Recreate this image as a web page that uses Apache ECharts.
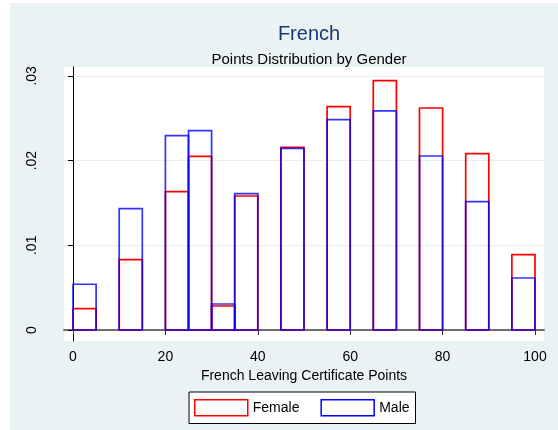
<!DOCTYPE html>
<html>
<head>
<meta charset="utf-8">
<script src="https://cdn.jsdelivr.net/npm/echarts@6/dist/echarts.min.js"></script>
<style>
  html, body { margin: 0; padding: 0; background: #fff; }
  #main { width: 558px; height: 430px; }
</style>
</head>
<body>
<div id="main"></div>
<script>
// histogram bins (left edge, width 5) and densities
const binStarts = [0, 10, 20, 25, 30, 35, 45, 55, 65, 75, 85, 95];
const binWidth = 5;
const female = [0.00252, 0.0083, 0.01633, 0.0205, 0.00283, 0.01582, 0.02157, 0.02636, 0.02943, 0.02621, 0.02082, 0.00889];
const male = [0.0054, 0.01432, 0.02294, 0.02353, 0.00307, 0.01609, 0.02145, 0.02483, 0.02586, 0.02054, 0.01515, 0.00614];
const xTicks = [0, 20, 40, 60, 80, 100];
const yTicks = [0, 0.01, 0.02, 0.03];

const font = 'Liberation Sans, Arial, sans-serif';

function toRows (values) {
    return binStarts.map((s, i) => [s, s + binWidth, values[i]]);
}

function barRenderer (color, opacity) {
    return function (params, api) {
        let topLeft = api.coord([api.value(0), api.value(2)]);
        let bottomRight = api.coord([api.value(1), 0]);
        return {
            type: 'rect',
            shape: {
                x: topLeft[0],
                y: topLeft[1],
                width: bottomRight[0] - topLeft[0],
                height: bottomRight[1] - topLeft[1]
            },
            style: { fill: 'none', stroke: color, lineWidth: 1.7, opacity: opacity }
        };
    };
}

let myChart = echarts.init(document.getElementById('main'));
myChart.setOption({
    backgroundColor: '#fff',
    animation: false,
    graphic: [{
        type: 'rect',
        z: -10,
        shape: { x: 10, y: 3, width: 548, height: 427 },
        style: { fill: '#eaf2f3' }
    }],
    // titles are centred over the plot region, not the whole page
    title: [{
        text: 'French',
        left: 304,
        textAlign: 'center',
        top: 19,
        textStyle: { fontFamily: font, fontSize: 20, fontWeight: 'normal', color: '#1a3a6e' }
    }, {
        text: 'Points Distribution by Gender',
        left: 304,
        textAlign: 'center',
        top: 47,
        textStyle: { fontFamily: font, fontSize: 15, fontWeight: 'normal', color: '#000' }
    }],
    grid: {
        left: 64,
        right: 14,
        top: 67,
        bottom: 89,
        show: true,
        backgroundColor: '#fff',
        borderWidth: 0
    },
    legend: {
        left: 189,
        top: 392,
        padding: [7, 6, 7, 5],
        backgroundColor: '#fff',
        borderColor: '#000',
        borderWidth: 1,
        borderRadius: 0,
        itemWidth: 53,
        itemHeight: 16,
        itemGap: 21,
        textStyle: { fontFamily: font, fontSize: 14, color: '#000' },
        data: [
            { name: 'Female', icon: 'rect', itemStyle: { color: '#fff', borderColor: '#ff0000', borderWidth: 1.5 } },
            { name: 'Male', icon: 'rect', itemStyle: { color: '#fff', borderColor: '#0000ff', borderWidth: 1.5 } }
        ]
    },
    xAxis: {
        type: 'value',
        min: -1.95,
        max: 101.95,
        name: 'French Leaving Certificate Points',
        nameLocation: 'middle',
        nameGap: 26,
        nameTextStyle: { fontFamily: font, fontSize: 14, color: '#000' },
        axisLine: { show: true, lineStyle: { color: '#6e6e6e', width: 2 } },
        axisTick: { show: true, length: 5, customValues: xTicks, lineStyle: { color: '#333' } },
        axisLabel: { customValues: xTicks, margin: 9, fontFamily: font, fontSize: 14, color: '#000' },
        splitLine: { show: false }
    },
    yAxis: {
        type: 'value',
        min: -0.0013,
        max: 0.03105,
        axisLine: { show: true, lineStyle: { color: '#000', width: 1 } },
        axisTick: { show: true, length: 5, customValues: yTicks, lineStyle: { color: '#000' } },
        axisLabel: {
            customValues: yTicks,
            rotate: 90,
            margin: 25,
            fontFamily: font,
            fontSize: 14,
            color: '#000',
            formatter: (v) => v === 0 ? '0' : String(v).replace(/^0/, '')
        },
        splitLine: { show: false }
    },
    series: [{
        name: 'Female',
        type: 'custom',
        renderItem: barRenderer('#ff0000', 1),
        encode: { x: [0, 1], y: 2 },
        data: toRows(female),
        markLine: {
            silent: true,
            symbol: 'none',
            z: 0,
            label: { show: false },
            lineStyle: { color: '#e6eef0', type: 'solid', width: 1 },
            data: yTicks.map((v) => ({ yAxis: v }))
        }
    }, {
        name: 'Male',
        type: 'custom',
        renderItem: barRenderer('#0000ff', 0.8),
        encode: { x: [0, 1], y: 2 },
        data: toRows(male)
    }]
});
</script>
</body>
</html>
